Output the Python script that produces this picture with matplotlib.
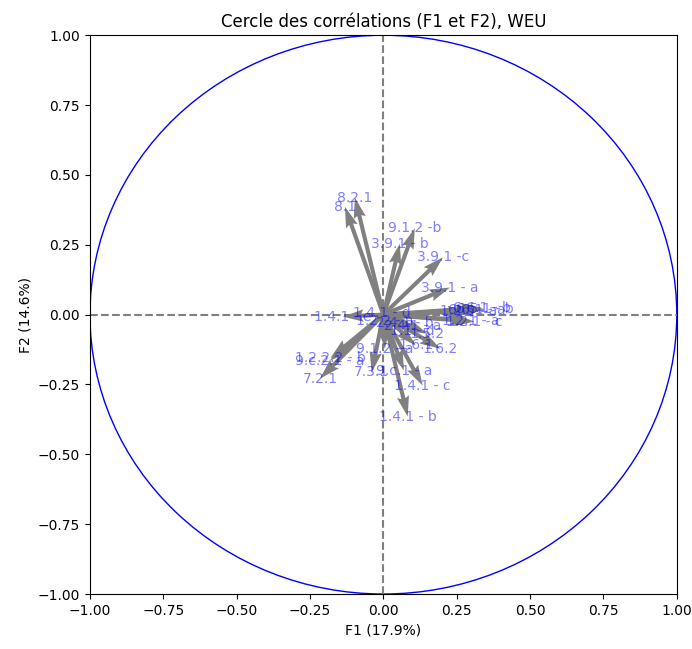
import numpy as np
import matplotlib
matplotlib.use("Agg")
import matplotlib.pyplot as plt

labels = ["8.2.1", "8.1", "9.1.2 -b", "3.9.1 - b", "3.9.1 -c", "3.9.1 - a",
          "6.6.1 - a", "6.6.1 - b", "6.5.1 - b", "1.2.5 - a", "1.2.1 - a", "1.2.1 - c",
          "1.4.1 - e", "1.4.1 - d", "1.2.2 - a", "2.4.1 - b", "2.4.1 - a",
          "1.1 - d", "1.5.2", "1.6.1", "1.6.2", "9.1.2 - a", "9.c.1 - a", "7.3.1",
          "1.4.1 - c", "1.4.1 - b", "7.2.1", "9.c.2.1 - a", "1.2.2.2 - b"]
f1 = [-0.097, -0.131, 0.107, 0.056, 0.203, 0.227,
      0.320, 0.335, 0.345, 0.290, 0.298, 0.310,
      -0.138, -0.005, 0.005, 0.073, 0.100,
      0.100, 0.150, 0.110, 0.194, 0.005, 0.070, -0.040,
      0.134, 0.083, -0.216, -0.182, -0.180]
f2 = [0.419, 0.386, 0.309, 0.254, 0.205, 0.097,
      0.018, 0.025, 0.020, 0.012, -0.021, -0.025,
      -0.007, 0.007, -0.021, -0.029, -0.040,
      -0.060, -0.068, -0.110, -0.122, -0.122, -0.200, -0.207,
      -0.254, -0.365, -0.229, -0.165, -0.155]

fig = plt.figure(figsize=(6.92, 6.49), dpi=100)
ax = fig.add_axes([0.130, 0.0847, 0.848, 0.861])

x = np.array(f1)
y = np.array(f2)
ax.quiver(np.zeros(len(x)), np.zeros(len(y)), x, y, angles='xy',
          scale_units='xy', scale=1, color='grey', width=0.007)
for lab, xi, yi in zip(labels, x, y):
    ax.text(xi, yi, lab, fontsize=10, ha='center', va='center',
            color='blue', alpha=0.5)

circle = plt.Circle((0, 0), 1, facecolor='none', edgecolor='b')
ax.add_artist(circle)
ax.plot([-1, 1], [0, 0], color='grey', ls='--')
ax.plot([0, 0], [-1, 1], color='grey', ls='--')
ax.set_xlim(-1, 1)
ax.set_ylim(-1, 1)
ax.set_xlabel('F1 (17.9%)')
ax.set_ylabel('F2 (14.6%)')
ax.set_title('Cercle des corrélations (F1 et F2), WEU')
fig.savefig('out.png', dpi=100)
